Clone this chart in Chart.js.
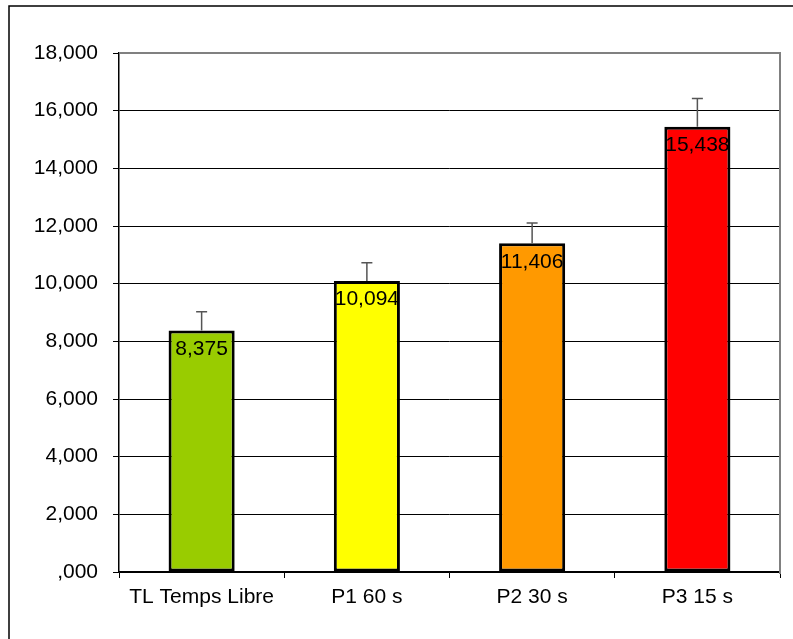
<!DOCTYPE html>
<html>
<head>
<meta charset="utf-8">
<script src="https://cdn.jsdelivr.net/npm/chart.js@4/dist/chart.umd.min.js"></script>
<style>
  html, body { margin: 0; padding: 0; background: #fff; }
  #wrap { width: 793px; height: 639px; position: relative; }
</style>
</head>
<body>
<div id="wrap"><canvas id="chart" width="793" height="639"></canvas></div>
<script>
// Mean values per condition, with the upper error of each mean
const categories = ["TL Temps Libre", "P1 60 s", "P2 30 s", "P3 15 s"];
const means = [8375, 10094, 11406, 15438];
const errors = [650, 630, 700, 980];
const barColors = ["#99CC00", "#FFFF00", "#FF9900", "#FF0000"];
const valueLabels = ["8,375", "10,094", "11,406", "15,438"];
const yTickLabels = [",000", "2,000", "4,000", "6,000", "8,000", "10,000", "12,000", "14,000", "16,000", "18,000"];

const FONT = "'Liberation Sans', Arial, sans-serif";

// Draws the frame, plot border, error bars and value labels
const extrasPlugin = {
    id: 'extras',
    beforeDraw(chart) {
        const ctx = chart.ctx;
        ctx.save();
        ctx.strokeStyle = '#000';
        ctx.lineWidth = 1.5;
        ctx.beginPath();
        ctx.moveTo(9, 639);
        ctx.lineTo(9, 6);
        ctx.lineTo(793, 6);
        ctx.stroke();
        ctx.restore();
    },
    afterDatasetsDraw(chart) {
        const ctx = chart.ctx;
        const area = chart.chartArea;
        const yScale = chart.scales.y;
        const meta = chart.getDatasetMeta(0);

        ctx.save();
        // plot area border on top and right
        ctx.strokeStyle = '#808080';
        ctx.lineWidth = 2;
        ctx.beginPath();
        ctx.moveTo(area.left, area.top);
        ctx.lineTo(area.right, area.top);
        ctx.lineTo(area.right, area.bottom + 2);
        ctx.stroke();

        meta.data.forEach(function(bar, i) {
            const top = bar.y;
            const errY = yScale.getPixelForValue(means[i] + errors[i]);
            ctx.strokeStyle = '#555';
            ctx.lineWidth = 1.5;
            ctx.beginPath();
            ctx.moveTo(bar.x, top);
            ctx.lineTo(bar.x, errY);
            ctx.moveTo(bar.x - 5.5, errY);
            ctx.lineTo(bar.x + 5.5, errY);
            ctx.stroke();

            ctx.fillStyle = '#000';
            ctx.font = '21px ' + FONT;
            ctx.textAlign = 'center';
            ctx.textBaseline = 'alphabetic';
            ctx.fillText(valueLabels[i], bar.x, top + 24.5);
        });
        ctx.restore();
    }
};

const ctx = document.getElementById('chart').getContext('2d');
new Chart(ctx, {
    type: 'bar',
    data: {
        labels: categories,
        datasets: [{
            data: means,
            backgroundColor: barColors,
            borderColor: '#000',
            borderWidth: 3,
            borderSkipped: false,
            barPercentage: 0.4,
            categoryPercentage: 1
        }]
    },
    options: {
        responsive: false,
        animation: false,
        layout: { padding: { top: 53, right: 13, left: 0, bottom: 0 } },
        plugins: {
            legend: { display: false },
            tooltip: { enabled: false }
        },
        scales: {
            x: {
                afterFit(scale) { scale.height = 67; },
                grid: {
                    drawOnChartArea: false,
                    drawTicks: true,
                    tickLength: 6,
                    offset: true,
                    color: '#000',
                    tickColor: '#000'
                },
                border: { color: '#000', width: 1.5 },
                ticks: {
                    color: '#000',
                    font: { family: FONT, size: 21 },
                    padding: 7,
                    maxRotation: 0
                }
            },
            y: {
                min: 0,
                max: 18000,
                afterFit(scale) { scale.width = 119; },
                grid: {
                    color: '#000',
                    lineWidth: 1,
                    tickLength: 6,
                    tickColor: '#000'
                },
                border: { color: '#000', width: 1.5 },
                ticks: {
                    stepSize: 2000,
                    color: '#000',
                    font: { family: FONT, size: 21 },
                    padding: 15,
                    callback: function(value) {
                        return yTickLabels[Math.round(value / 2000)];
                    }
                }
            }
        }
    },
    plugins: [extrasPlugin]
});
</script>
</body>
</html>
